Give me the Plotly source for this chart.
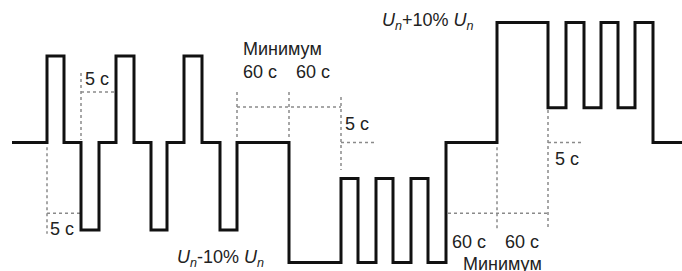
import plotly.graph_objects as go

# Step change instants (schematic time units) and voltage level (% of U_n) after each instant
step_times = [12, 47, 64, 81, 99, 116, 134, 151, 167, 184, 202, 220, 237,
              289, 341, 358, 376, 393, 411, 428, 446,
              497, 548, 566, 584, 601, 618, 635, 653, 682]
levels_pct = [100, 107.2, 100, 92.7, 100, 107.2, 100, 92.7, 100, 107.2, 100, 92.7, 100,
              90, 97.0, 90, 97.0, 90, 97.0, 90, 100,
              110, 102.9, 110, 102.9, 110, 102.9, 110, 100, 100]

label_5s = "5 с"
label_60s = "60 с"
label_min = "Минимум"
label_low = "<i>U</i><sub><i>n</i></sub>-10% <i>U</i><sub><i>n</i></sub>"
label_high = "<i>U</i><sub><i>n</i></sub>+10% <i>U</i><sub><i>n</i></sub>"

fig = go.Figure()
fig.add_trace(go.Scatter(x=step_times, y=levels_pct, mode="lines",
                         line=dict(shape="hv", color="#111111", width=3),
                         hoverinfo="skip", showlegend=False))

dot = dict(color="#8a8a8a", width=1.5, dash="dot")
guides = [
    (step_times[1], 99.6, step_times[1], 92.4),
    (step_times[1], 94.1, step_times[3], 94.1),
    (step_times[3], 105.8, step_times[3], 100.2),
    (step_times[3], 104.2, step_times[5], 104.2),
    (step_times[12], 104.2, step_times[12], 100.2),
    (step_times[13], 104.2, step_times[13], 100.2),
    (step_times[12], 102.95, step_times[14], 102.95),
    (step_times[14], 103.8, step_times[14], 97.7),
    (step_times[14], 100.0, step_times[16], 100.0),
    (step_times[21], 99.6, step_times[21], 92.6),
    (step_times[22], 102.7, step_times[22], 92.7),
    (448, 94.1, step_times[22], 94.1),
    (step_times[22], 100.0, step_times[24], 100.0),
]
for x0, y0, x1, y1 in guides:
    fig.add_shape(type="line", x0=x0, y0=y0, x1=x1, y1=y1, line=dot, layer="below")

font = dict(family="Liberation Sans, Arial, sans-serif", size=18, color="#222222")
texts = [
    (48, 92.8, label_5s),
    (83, 105.3, label_5s),
    (241, 107.8, label_min),
    (241, 105.9, label_60s),
    (294, 105.9, label_60s),
    (343, 101.5, label_5s),
    (175, 90.3, label_low),
    (380, 110.1, label_high),
    (553, 98.6, label_5s),
    (450, 91.7, label_60s),
    (503, 91.7, label_60s),
    (461, 89.85, label_min),
]
for x, y, t in texts:
    fig.add_annotation(x=x, y=y, text=t, showarrow=False, xanchor="left",
                       yanchor="middle", font=font)

fig.update_layout(width=682, height=271, margin=dict(l=0, r=0, t=0, b=0),
                  paper_bgcolor="white", plot_bgcolor="white")
fig.update_xaxes(range=[0, 682], visible=False)
fig.update_yaxes(range=[89.29, 111.875], visible=False)
fig.write_html("out.html", config={"responsive": False, "displayModeBar": False},
               default_width="682px", default_height="271px",
               post_script="document.body.style.margin='0';document.body.style.overflow='hidden';")
